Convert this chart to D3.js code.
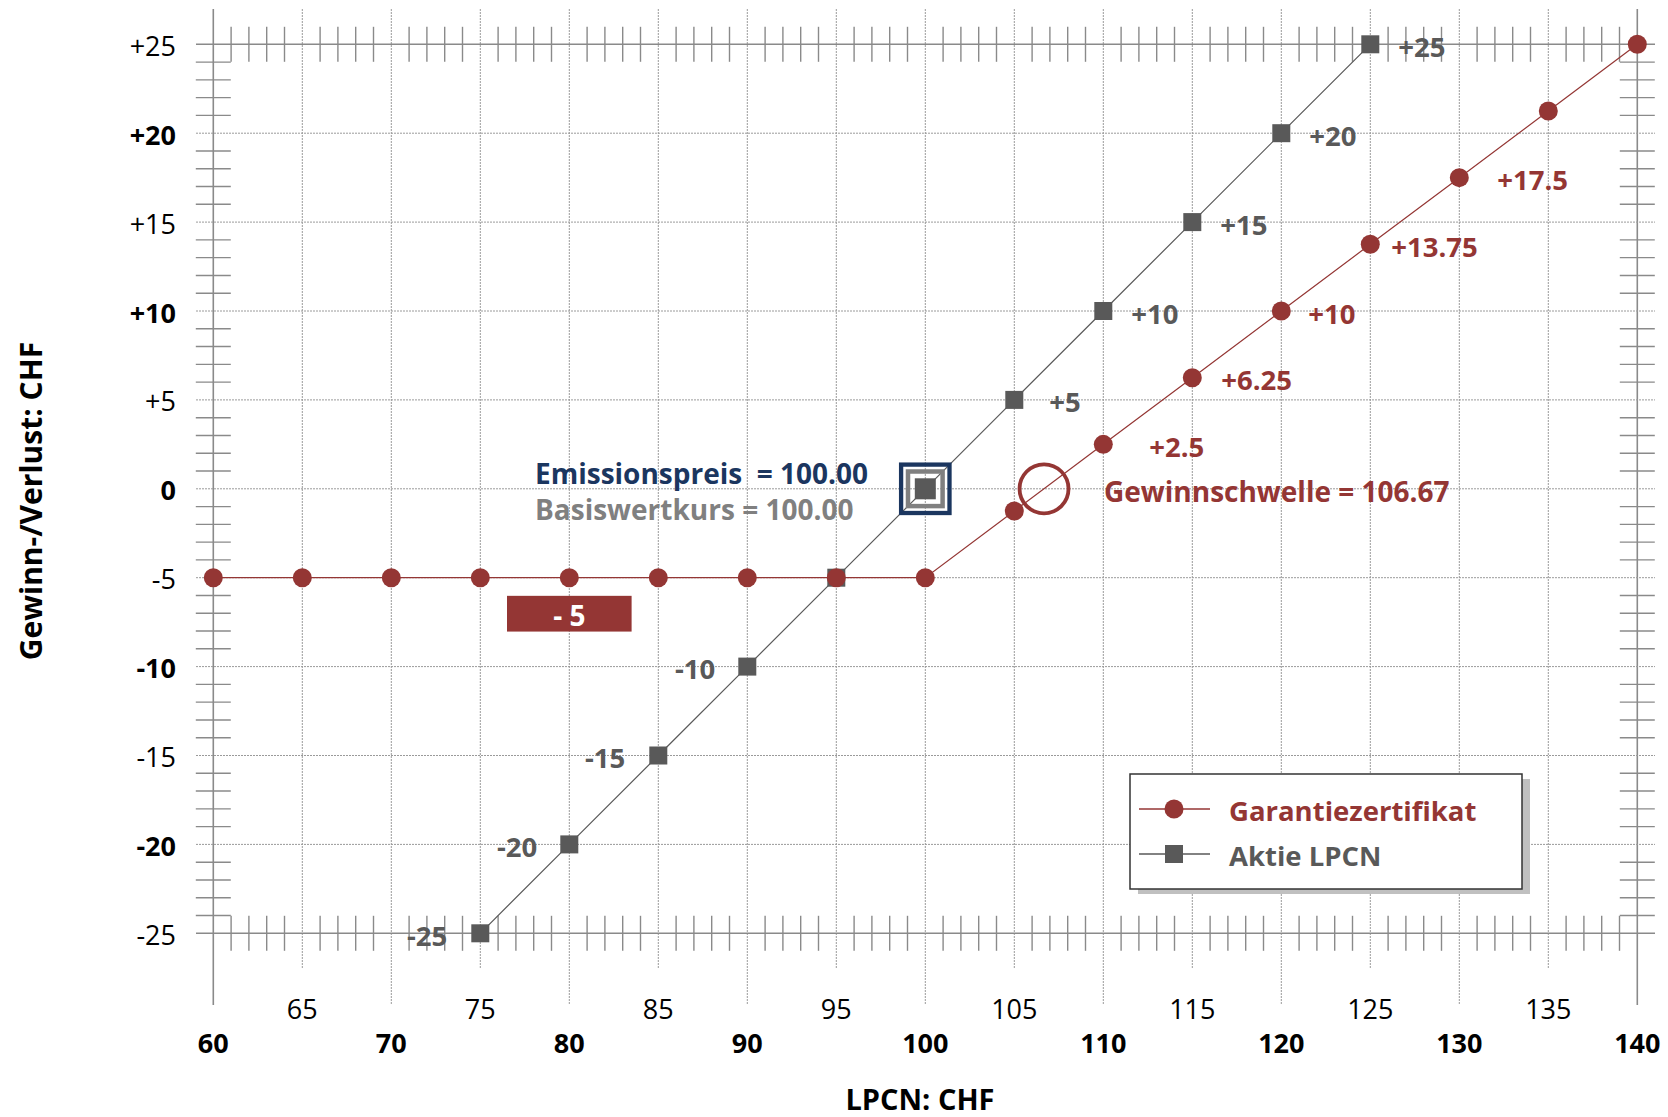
<!DOCTYPE html>
<html>
<head>
<meta charset="utf-8">
<script src="https://cdn.jsdelivr.net/npm/d3@7"></script>
<style>
  html, body { margin: 0; padding: 0; background: #fff; }
  svg { display: block; font-family: "Open Sans", "Noto Sans", sans-serif; }
</style>
</head>
<body>
<svg id="chart" width="1668" height="1117"></svg>
<script>
// Underlying price (CHF) and payoff of the guarantee certificate
const certPrices = [60, 65, 70, 75, 80, 85, 90, 95, 100, 105, 110, 115, 120, 125, 130, 135, 140];
const certValues = [-5, -5, -5, -5, -5, -5, -5, -5, -5, -1.25, 2.5, 6.25, 10, 13.75, 17.5, 21.25, 25];

// Direct share investment
const stockPrices = [75, 80, 85, 90, 95, 100, 105, 110, 115, 120, 125];
const stockValues = [-25, -20, -15, -10, -5, 0, 5, 10, 15, 20, 25];

// Value labels next to the markers
const certLabelPrices = [110, 115, 120, 125, 130];
const certLabelTexts  = ["+2.5", "+6.25", "+10", "+13.75", "+17.5"];
const stockLabelPrices = [75, 80, 85, 90, 105, 110, 115, 120, 125];
const stockLabelTexts  = ["-25", "-20", "-15", "-10", "+5", "+10", "+15", "+20", "+25"];

// Axis ticks
const xTicks = [60, 65, 70, 75, 80, 85, 90, 95, 100, 105, 110, 115, 120, 125, 130, 135, 140];
const yTicks = [-25, -20, -15, -10, -5, 0, 5, 10, 15, 20, 25];
const yTickLabels = ["-25", "-20", "-15", "-10", "-5", "0", "+5", "+10", "+15", "+20", "+25"];

// Key reference levels
const issuePrice = 100.00;
const breakEven = 106.67;
const floorLoss = -5;

const RED = "#943634";
const GREY = "#595959";
const NAVY = "#1B365F";
const GRID = "#9a9a9a";
const AXIS = "#8a8a8a";

const svg = d3.select("#chart");
const x = d3.scaleLinear().domain([60, 140]).range([213.3, 1637.3]);
const y = d3.scaleLinear().domain([-25, 25]).range([933.3, 44.3]);

const grid = svg.append("g");

// vertical grid lines
grid.selectAll("line.vx").data(xTicks).join("line")
  .attr("x1", d => x(d)).attr("x2", d => x(d))
  .attr("y1", 9)
  .attr("y2", d => d % 10 === 0 ? 1005 : 969)
  .attr("stroke", d => (d === 60 || d === 140) ? AXIS : GRID)
  .attr("stroke-width", d => (d === 60 || d === 140) ? 1.6 : 1)
  .attr("stroke-dasharray", d => (d === 60 || d === 140) ? null : "2,1");

// horizontal grid lines
grid.selectAll("line.hy").data(yTicks).join("line")
  .attr("x1", 196).attr("x2", 1655)
  .attr("y1", d => y(d)).attr("y2", d => y(d))
  .attr("stroke", d => Math.abs(d) === 25 ? AXIS : GRID)
  .attr("stroke-width", d => Math.abs(d) === 25 ? 1.6 : 1)
  .attr("stroke-dasharray", d => Math.abs(d) === 25 ? null : "2,1");

// ruler-style minor ticks along the frame, every 1 CHF
const minorX = d3.range(61, 140).filter(v => v % 5 !== 0);
const minorY = d3.range(-24, 25).filter(v => v % 5 !== 0);
const tickLen = 17.5;
[25, -25].forEach(edge => {
  grid.selectAll(null).data(minorX).join("line")
    .attr("x1", d => x(d)).attr("x2", d => x(d))
    .attr("y1", y(edge) - tickLen).attr("y2", y(edge) + tickLen)
    .attr("stroke", AXIS).attr("stroke-width", 1.4);
});
[60, 140].forEach(edge => {
  grid.selectAll(null).data(minorY).join("line")
    .attr("y1", d => y(d)).attr("y2", d => y(d))
    .attr("x1", x(edge) - tickLen).attr("x2", x(edge) + tickLen)
    .attr("stroke", AXIS).attr("stroke-width", 1.4);
});

// y tick labels
svg.append("g").selectAll("text").data(yTicks).join("text")
  .attr("x", 176).attr("y", d => y(d) + 1)
  .attr("text-anchor", "end").attr("dominant-baseline", "central")
  .attr("font-size", 27)
  .attr("font-weight", d => d % 10 === 0 ? 700 : 400)
  .attr("fill", "#000")
  .text((d, i) => yTickLabels[i]);

// x tick labels, tens on a lower row
svg.append("g").selectAll("text").data(xTicks).join("text")
  .attr("x", d => x(d))
  .attr("y", d => d % 10 === 0 ? 1042 : 1008)
  .attr("text-anchor", "middle").attr("dominant-baseline", "central")
  .attr("font-size", 27)
  .attr("font-weight", d => d % 10 === 0 ? 700 : 400)
  .attr("fill", "#000")
  .text(d => d);

// axis titles
svg.append("text")
  .attr("x", 920).attr("y", 1110)
  .attr("text-anchor", "middle")
  .attr("font-size", 29).attr("font-weight", 700)
  .text("LPCN: CHF");
svg.append("text")
  .attr("transform", "translate(30,501) rotate(-90)")
  .attr("text-anchor", "middle").attr("dominant-baseline", "central")
  .attr("font-size", 30).attr("font-weight", 700)
  .text("Gewinn-/Verlust: CHF");

// floor badge
const badge = svg.append("g");
badge.append("rect")
  .attr("x", x(80 - 3.5)).attr("width", x(80 + 3.5) - x(80 - 3.5))
  .attr("y", y(floorLoss - 1.02)).attr("height", y(floorLoss - 3.03) - y(floorLoss - 1.02))
  .attr("fill", RED);
badge.append("text")
  .attr("x", x(80)).attr("y", (y(floorLoss - 1.02) + y(floorLoss - 3.03)) / 2 + 1)
  .attr("text-anchor", "middle").attr("dominant-baseline", "central")
  .attr("font-size", 28).attr("font-weight", 700).attr("fill", "#fff")
  .style("white-space", "pre")
  .text("- " + Math.abs(floorLoss));

// series lines
const line = d3.line().x(d => x(d[0])).y(d => y(d[1]));
const stockData = stockPrices.map((p, i) => [p, stockValues[i]]);
const certData = certPrices.map((p, i) => [p, certValues[i]]);

svg.append("path").datum(stockData).attr("d", line)
  .attr("fill", "none").attr("stroke", GREY).attr("stroke-width", 1.2);
svg.append("path").datum(certData).attr("d", line)
  .attr("fill", "none").attr("stroke", RED).attr("stroke-width", 1.2);

// share markers (the issue point gets its own framed marker)
const sq = 18;
svg.append("g").selectAll("rect").data(stockData.filter(d => d[0] !== issuePrice)).join("rect")
  .attr("x", d => x(d[0]) - sq / 2).attr("y", d => y(d[1]) - sq / 2)
  .attr("width", sq).attr("height", sq).attr("fill", GREY);

const ix = x(issuePrice), iy = y(0);
svg.append("rect").attr("x", ix - 24.2).attr("y", iy - 24.2).attr("width", 48.4).attr("height", 48.4)
  .attr("fill", "none").attr("stroke", NAVY).attr("stroke-width", 4.3);
svg.append("rect").attr("x", ix - 17.3).attr("y", iy - 17.3).attr("width", 34.6).attr("height", 34.6)
  .attr("fill", "none").attr("stroke", "#808080").attr("stroke-width", 4.5);
svg.append("rect").attr("x", ix - 10.5).attr("y", iy - 10.5).attr("width", 21).attr("height", 21)
  .attr("fill", GREY);

// certificate markers
svg.append("g").selectAll("circle").data(certData).join("circle")
  .attr("cx", d => x(d[0])).attr("cy", d => y(d[1])).attr("r", 9.5)
  .attr("fill", RED);

// break-even ring
svg.append("circle").attr("cx", x(breakEven)).attr("cy", y(0)).attr("r", 24.5)
  .attr("fill", "none").attr("stroke", RED).attr("stroke-width", 3.8);

// value labels
const certDx = [46, 29, 27, 21, 38];
const stockDx = [-33, -32, -33, -32, 35, 28, 28, 28, 28];
svg.append("g").selectAll("text").data(certLabelPrices).join("text")
  .attr("x", (d, i) => x(d) + certDx[i])
  .attr("y", (d, i) => y(certValues[certPrices.indexOf(d)]) + 2)
  .attr("dominant-baseline", "central")
  .attr("font-size", 27.5).attr("font-weight", 700).attr("fill", RED)
  .text((d, i) => certLabelTexts[i]);
svg.append("g").selectAll("text").data(stockLabelPrices).join("text")
  .attr("x", (d, i) => x(d) + stockDx[i])
  .attr("y", (d, i) => y(stockValues[stockPrices.indexOf(d)]) + 2)
  .attr("text-anchor", (d, i) => stockDx[i] < 0 ? "end" : "start")
  .attr("dominant-baseline", "central")
  .attr("font-size", 27.5).attr("font-weight", 700).attr("fill", GREY)
  .text((d, i) => stockLabelTexts[i]);

// annotations
svg.append("text").attr("x", 535).attr("y", 473)
  .attr("dominant-baseline", "central")
  .attr("font-size", 28).attr("font-weight", 700).attr("fill", NAVY)
  .style("white-space", "pre")
  .text("Emissionspreis  = " + issuePrice.toFixed(2));
svg.append("text").attr("x", 535).attr("y", 509)
  .attr("dominant-baseline", "central")
  .attr("font-size", 28).attr("font-weight", 700).attr("fill", "#808080")
  .text("Basiswertkurs = " + issuePrice.toFixed(2));
svg.append("text").attr("x", 1104).attr("y", 491)
  .attr("dominant-baseline", "central")
  .attr("font-size", 28).attr("font-weight", 700).attr("fill", RED)
  .text("Gewinnschwelle = " + breakEven.toFixed(2));

// legend
const lg = svg.append("g");
lg.append("rect").attr("x", 1138).attr("y", 779).attr("width", 392).attr("height", 115).attr("fill", "#c0c0c0");
lg.append("rect").attr("x", 1130).attr("y", 774).attr("width", 392).attr("height", 115)
  .attr("fill", "#fff").attr("stroke", "#333").attr("stroke-width", 1.5);
const legendItems = [
  { name: "Garantiezertifikat", color: RED, shape: "circle", cy: 809 },
  { name: "Aktie LPCN", color: GREY, shape: "square", cy: 854 }
];
legendItems.forEach(it => {
  lg.append("line").attr("x1", 1139).attr("x2", 1210).attr("y1", it.cy).attr("y2", it.cy)
    .attr("stroke", it.color).attr("stroke-width", 1.3);
  if (it.shape === "circle") {
    lg.append("circle").attr("cx", 1174).attr("cy", it.cy).attr("r", 9.5).attr("fill", it.color);
  } else {
    lg.append("rect").attr("x", 1174 - 9).attr("y", it.cy - 9).attr("width", 18).attr("height", 18).attr("fill", it.color);
  }
  lg.append("text").attr("x", 1229).attr("y", it.cy + 1)
    .attr("dominant-baseline", "central")
    .attr("font-size", 27.5).attr("font-weight", 700).attr("fill", it.color)
    .text(it.name);
});
</script>
</body>
</html>
